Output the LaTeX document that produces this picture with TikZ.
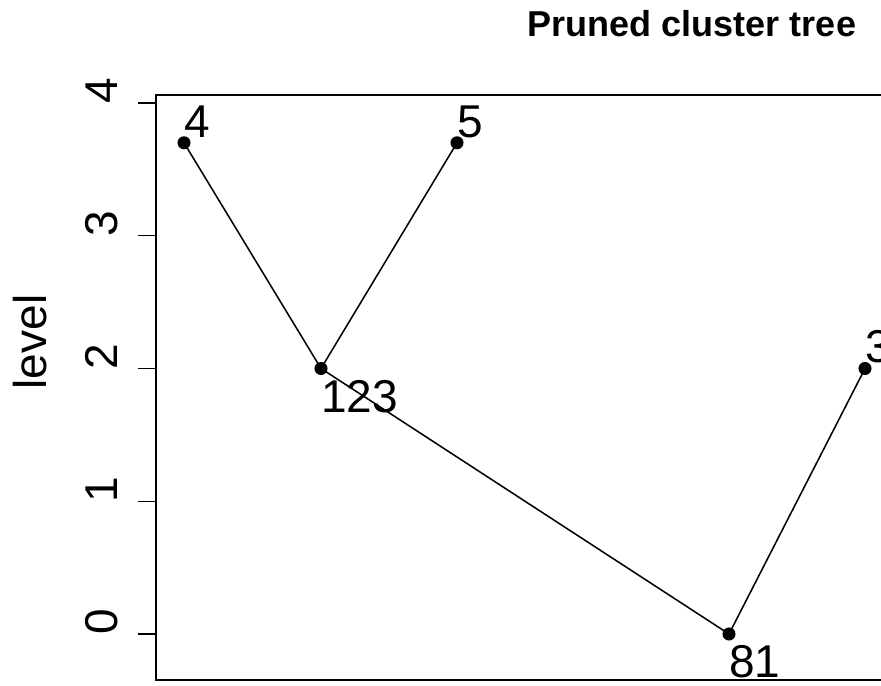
\documentclass[tikz,border=0pt]{standalone}
\usepackage{fontspec}
\setmainfont{Liberation Sans}
\usetikzlibrary{positioning}

\tikzset{
  lab/.style={inner sep=0pt,font=\fontsize{34.5}{40}\selectfont},
  dot/.style={fill=black,circle,inner sep=0pt,minimum size=9.8pt},
  edge/.style={line width=1.15pt}
}

\begin{document}
\begin{tikzpicture}[x=0.75pt,y=0.75pt]
\useasboundingbox (0,0) rectangle (881,685);
\node[font=\bfseries\fontsize{27}{32}\selectfont,anchor=base,inner sep=0pt] (title) at (692,648) {Pruned cluster tree};
\node[lab,rotate=90] (ylab) at (30,343) {level};
% frame (right side runs off the page)
\draw[line width=1.5pt] (881,5) -- (156,5) -- (156,590) -- (881,590);
\foreach \v in {0,...,4}{
  \draw[line width=1.1pt] (138,{51+132.75*\v}) -- (156,{51+132.75*\v});
  \node[lab,rotate=90] (t\v) at (101.5,{63+132.75*\v}) {\v};
}
\coordinate (p4) at (184,542.2);
\coordinate (p5) at (457,542.2);
\coordinate (p123) at (321,316.5);
\coordinate (p81) at (729,51);
\coordinate (p3) at (865,316.5);
\draw[edge] (p4) -- (p123) -- (p5);
\draw[edge] (p123) -- (p81) -- (p3);
\foreach \p in {p4,p5,p123,p81,p3} \node[dot] (d\p) at (\p) {};
\node[lab,above right=3.75pt and 0pt of p4] (l4) {4};
\node[lab,above right=3.75pt and 0pt of p5] (l5) {5};
\node[lab,above right=3.75pt and 0pt of p3] (l3) {3};
\node[lab,below right=8.5pt and 0pt of p123] (l123) {123};
\node[lab,below right=8.5pt and 0pt of p81] (l81) {81};
\end{tikzpicture}
\end{document}
